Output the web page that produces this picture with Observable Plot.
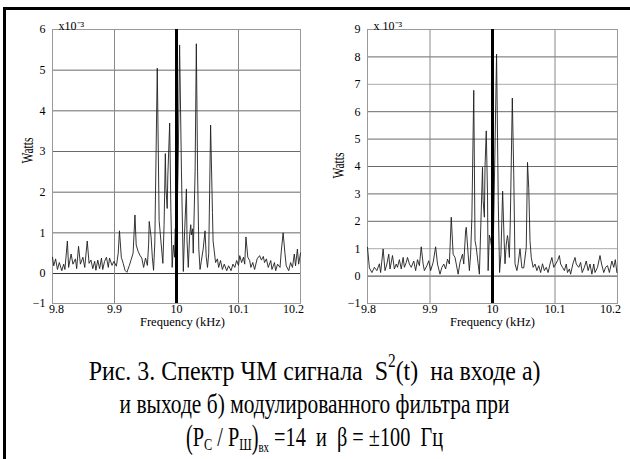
<!DOCTYPE html>
<html><head><meta charset="utf-8">
<script src="https://cdn.jsdelivr.net/npm/d3@7"></script>
<script src="https://cdn.jsdelivr.net/npm/@observablehq/plot@0.6"></script>
<style>
body{margin:0;background:#fff;}
#page{position:relative;width:630px;height:459px;overflow:hidden;background:#fff;}
#a{position:absolute;left:0;top:0;}
#b{position:absolute;left:315px;top:0;}
.bt{position:absolute;left:3px;top:7px;width:627px;height:3px;background:#000;}
.bl{position:absolute;left:3px;top:7px;width:3px;height:452px;background:#000;}
#cap{position:absolute;left:0;width:630px;top:354px;text-align:center;font-family:"Liberation Serif","Times New Roman",serif;font-size:28px;line-height:33px;color:#000;}
#cap .ln{display:block;white-space:nowrap;height:33px;}
#cap .in{display:inline-block;transform-origin:center;white-space:nowrap;}
.sup{font-size:18px;position:relative;top:-13px;}
.sub{font-size:17px;position:relative;top:4px;}
.subv{font-size:15px;position:relative;top:6px;}
.par{display:inline-block;transform:scaleY(1.22);}
</style>
</head><body>
<div id="page">
  <div id="a"></div>
  <div id="b"></div>
  <div id="cap">
    <span class="ln"><span class="in" data-w="452">Рис. 3. Спектр ЧМ сигнала&nbsp; S<span class="sup">2</span>(t)&nbsp; на входе а)</span></span>
    <span class="ln"><span class="in" data-w="390">и выходе б) модулированного фильтра при</span></span>
    <span class="ln"><span class="in" data-w="257"><span class="par">(</span>P<span class="sub">C</span> / P<span class="sub">Ш</span><span class="par">)</span><span class="subv">вх</span> =14&nbsp; и&nbsp; β = ±100&nbsp; Гц</span></span>
  </div>
  <div class="bt"></div>
  <div class="bl"></div>
</div>
<script>
// ---- data (Watts, x10^-3) ----
const xTicks = [9.8, 9.9, 10, 10.1, 10.2];
const yTicksA = [-1, 0, 1, 2, 3, 4, 5, 6];
const yTicksB = [-1, 0, 1, 2, 3, 4, 5, 6, 7, 8, 9];
const carrier = [10];

const freqA = [9.800,9.802,9.805,9.808,9.811,9.815,9.818,9.820,9.824,9.826,9.830,9.833,9.837,9.839,9.842,9.845,9.849,9.852,9.856,9.859,9.862,9.865,9.868,9.870,9.873,9.876,9.879,9.881,9.884,9.887,9.890,9.892,9.896,9.899,9.903,9.906,9.908,9.911,9.914,9.917,9.920,9.924,9.927,9.930,9.933,9.935,9.938,9.941,9.944,9.947,9.950,9.953,9.955,9.956,9.959,9.961,9.963,9.965,9.969,9.972,9.974,9.978,9.980,9.982,9.983,9.985,9.986,9.989,9.991,9.993,9.995,9.997,9.998,10.000,10.003,10.005,10.008,10.011,10.013,10.016,10.017,10.019,10.021,10.023,10.024,10.026,10.027,10.030,10.032,10.034,10.036,10.038,10.040,10.043,10.046,10.048,10.050,10.052,10.055,10.058,10.059,10.063,10.066,10.068,10.071,10.074,10.077,10.081,10.084,10.088,10.091,10.094,10.097,10.100,10.102,10.105,10.108,10.110,10.112,10.115,10.118,10.120,10.123,10.126,10.130,10.134,10.137,10.140,10.142,10.145,10.148,10.152,10.154,10.158,10.160,10.163,10.167,10.169,10.172,10.175,10.177,10.181,10.184,10.187,10.190,10.192,10.195,10.197,10.200];
const wattsA = [0.40,0.19,0.36,0.10,0.27,0.07,0.23,0.10,0.80,0.15,0.48,0.23,0.36,0.12,0.67,0.23,0.40,0.15,0.80,0.25,0.33,0.12,0.30,0.08,0.33,0.12,0.38,0.10,0.30,0.40,0.15,0.38,0.20,0.30,0.18,0.50,1.05,0.40,0.25,0.08,0.03,0.20,0.35,0.50,1.44,0.70,0.55,0.45,0.38,0.15,0.38,0.20,0.70,1.28,0.90,0.40,0.08,0.75,5.05,1.30,0.95,0.25,1.20,2.95,2.10,1.60,2.40,3.70,1.50,0.15,0.70,0.40,1.10,0.60,3.00,5.62,2.50,0.05,1.00,2.08,0.80,0.15,0.90,1.20,0.95,1.10,0.50,2.50,5.65,2.50,0.60,0.10,0.30,0.60,1.05,0.40,0.15,0.50,3.65,1.50,0.80,0.27,0.36,0.15,0.32,0.10,0.23,0.07,0.19,0.07,0.23,0.15,0.32,0.20,0.44,0.27,0.40,0.23,0.90,0.40,0.32,0.15,0.27,0.10,0.36,0.44,0.33,0.42,0.27,0.36,0.15,0.32,0.10,0.27,0.07,0.23,0.15,0.55,1.00,0.48,0.19,0.07,0.27,0.15,0.48,0.19,0.60,0.23,0.50];

const freqB = [9.800,9.803,9.807,9.811,9.815,9.819,9.821,9.825,9.828,9.831,9.834,9.836,9.840,9.843,9.846,9.848,9.851,9.854,9.857,9.859,9.862,9.864,9.867,9.870,9.874,9.877,9.880,9.883,9.886,9.889,9.891,9.895,9.898,9.901,9.905,9.909,9.912,9.916,9.919,9.922,9.925,9.928,9.931,9.934,9.937,9.940,9.942,9.945,9.948,9.952,9.954,9.957,9.958,9.961,9.963,9.965,9.967,9.970,9.972,9.974,9.977,9.979,9.982,9.984,9.985,9.987,9.988,9.990,9.992,9.993,9.995,9.997,9.999,10.0015,10.0038,10.0065,10.0092,10.0113,10.0135,10.0162,10.0183,10.020,10.022,10.024,10.025,10.027,10.0285,10.0317,10.034,10.036,10.039,10.041,10.044,10.047,10.050,10.054,10.056,10.058,10.060,10.062,10.065,10.068,10.071,10.074,10.077,10.080,10.083,10.086,10.089,10.092,10.095,10.098,10.101,10.104,10.107,10.109,10.112,10.115,10.118,10.120,10.123,10.125,10.1285,10.132,10.134,10.138,10.141,10.1435,10.147,10.150,10.153,10.156,10.159,10.162,10.164,10.168,10.172,10.1745,10.178,10.181,10.184,10.187,10.191,10.194,10.1965,10.199];
const wattsB = [1.05,0.30,0.13,0.32,0.20,0.45,0.13,0.99,0.20,0.44,0.80,0.26,0.75,0.26,0.44,0.32,0.60,0.26,0.68,0.32,0.50,0.68,0.44,0.32,0.55,0.20,0.60,0.38,1.07,0.44,0.20,0.38,0.56,0.20,0.50,1.07,0.44,0.07,0.32,0.44,0.26,0.62,0.44,2.15,0.80,0.68,0.44,0.07,0.50,0.80,0.44,1.65,1.78,0.80,0.20,0.80,2.15,6.78,1.30,1.05,0.45,0.07,2.40,3.97,2.75,2.15,3.97,5.30,3.00,0.20,1.50,1.30,1.00,1.50,4.45,8.10,2.75,0.13,0.80,3.10,1.50,0.45,1.17,1.48,1.30,0.68,2.00,6.50,3.70,0.45,0.20,0.45,1.00,0.30,0.30,1.05,4.15,3.20,1.30,0.68,0.32,0.44,0.20,0.38,0.13,0.45,0.20,0.32,0.13,0.44,0.68,0.32,0.44,0.56,0.75,0.44,0.32,0.20,0.44,0.13,0.26,0.07,0.44,0.68,0.44,0.32,0.50,0.13,0.32,0.55,0.20,0.44,0.07,0.44,0.13,0.32,0.75,0.44,0.13,0.32,0.38,0.13,0.55,0.32,0.60,0.13];

const yLabel = "Watts";
const xLabel = "Frequency (kHz)";
const expA = "x10⁻³";
const expB = "x 10⁻³";

const axisFont = "'Liberation Serif','Times New Roman', serif";

function panel({freq, watts, yScale, yTicks, darkGrid, lightGrid, exp, wattsDx, wattsDy, xLabDx, firstDx, lastDx, marginLeft, marginRight}) {
  const data = freq.map((f, i) => ({f, w: watts[i]}));
  const fmt = d => String(d);
  const xAxisOpts = {tickSize: 0, tickPadding: 1, fontSize: 12, label: null, tickFormat: fmt};
  const svg = Plot.plot({
    width: 315, height: 340,
    marginLeft, marginRight, marginTop: 29, marginBottom: 37,
    style: {fontFamily: axisFont, fontSize: "12px", background: "transparent", color: "#000"},
    x: {domain: [9.8, 10.2], label: null},
    y: {...yScale, label: null},
    marks: [
      Plot.ruleY(darkGrid, {stroke: "#6a6a6a", strokeWidth: 1}),
      Plot.ruleY(lightGrid, {stroke: "#aaa", strokeWidth: 1}),
      Plot.ruleY([0], {stroke: "#333", strokeWidth: 1}),
      Plot.ruleX([9.9, 10.1], {stroke: "#888", strokeWidth: 1}),
      Plot.frame({stroke: "#999", strokeWidth: 1}),
      Plot.line(data, {x: "f", y: "w", stroke: "#1e1e1e", strokeWidth: 0.9}),
      Plot.ruleX(carrier, {stroke: "#000", strokeWidth: 3}),
      Plot.axisX(xTicks.slice(1, -1), xAxisOpts),
      Plot.axisX(xTicks.slice(0, 1), {...xAxisOpts, dx: firstDx}),
      Plot.axisX(xTicks.slice(-1), {...xAxisOpts, dx: lastDx}),
      Plot.axisY(yTicks, {tickSize: 0, tickPadding: 7, fontSize: 12, label: null}),
      Plot.text([xLabel], {frameAnchor: "bottom", dy: 22, dx: xLabDx, fontSize: 12.5}),
      Plot.text([yLabel], {frameAnchor: "left", textAnchor: "middle", dx: wattsDx, dy: wattsDy, rotate: -90, fontSize: 16}),
      Plot.text([exp], {frameAnchor: "top-left", dx: 6, dy: -8, textAnchor: "start", fontSize: 12})
    ]
  });
  svg.querySelectorAll("text").forEach(t => {
    if (t.textContent === yLabel) {
      const tr = t.getAttribute("transform") || "";
      t.setAttribute("transform", tr + " scale(0.72,1)");
    }
  });
  return svg;
}

// left panel: the original's strip below zero is compressed (-1 sits ~30px under 0)
document.getElementById("a").appendChild(panel({
  freq: freqA, watts: wattsA, yScale: {transform: v => (v < 0 ? v * 0.737 : v)}, yTicks: yTicksA,
  darkGrid: [1, 2, 3, 4, 5], lightGrid: [], exp: expA, wattsDx: -25, wattsDy: -16, xLabDx: 6,
  firstDx: 4, lastDx: -7, marginLeft: 52, marginRight: 15
}));
document.getElementById("b").appendChild(panel({
  freq: freqB, watts: wattsB, yScale: {domain: [-1, 9]}, yTicks: yTicksB,
  darkGrid: [2, 3, 4, 5, 6, 8], lightGrid: [1, 7], exp: expB, wattsDx: -29, wattsDy: -1, xLabDx: 0,
  firstDx: 1, lastDx: -7, marginLeft: 52, marginRight: 13
}));

// fit caption lines to the widths they take in the original
document.querySelectorAll("#cap .in").forEach(el => {
  const w = el.getBoundingClientRect().width;
  const target = +el.dataset.w;
  if (w > 0) el.style.transform = `scaleX(${(target / w).toFixed(3)})`;
});
</script>
</body></html>
